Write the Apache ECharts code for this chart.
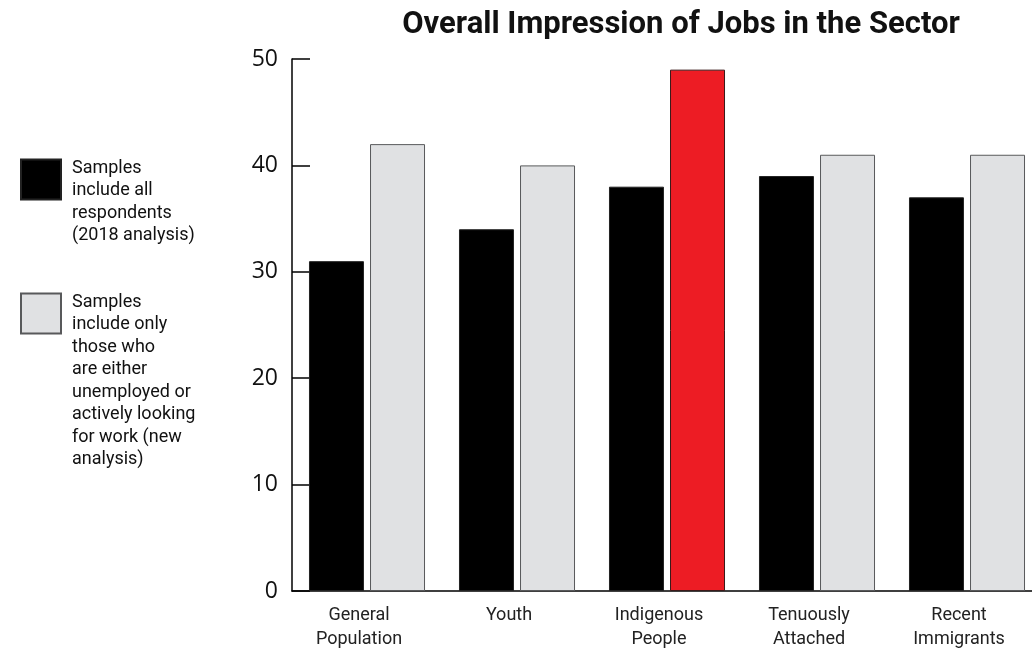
<!DOCTYPE html>
<html><head><meta charset="utf-8">
<script src="https://cdn.jsdelivr.net/npm/echarts@6/dist/echarts.min.js"></script>
<style>html,body{margin:0;padding:0;background:#fff}#c{width:1032px;height:649px}</style>
</head><body><div id="c"></div>
<script>
const titleText = 'Overall Impression of Jobs in the Sector';
const categories = ['General\nPopulation', 'Youth', 'Indigenous\nPeople', 'Tenuously\nAttached', 'Recent\nImmigrants'];
const seriesAllName = 'Samples\ninclude all\nrespondents\n(2018 analysis)';
const seriesNewName = 'Samples\ninclude only\nthose who\nare either\nunemployed or\nactively looking\nfor work (new\nanalysis)';
const allRespondents = [31, 34, 38, 39, 37];
const newAnalysis = [42, 40, 49, 41, 41];
const highlightIndex = 2;
const yTicks = [0, 10, 20, 30, 40, 50];

const chart = echarts.init(document.getElementById('c'));
const font = 'Roboto, "Noto Sans", sans-serif';
const legendText = {
  fontFamily: font, fontSize: 18, lineHeight: 22.5, color: '#111',
  rich: {p: {fontFamily: font, fontSize: 18, lineHeight: 22.5, color: '#111', padding: [0, 0, 0, 6]}}
};
const wrap = (n, blank) => n.split('\n').map(l => '{p|' + l + '}').join('\n').replace(/^/, '\n'.repeat(blank));
chart.setOption({
  animation: false,
  backgroundColor: '#fff',
  title: {
    text: titleText, left: 676, top: 5, textAlign: 'center',
    textStyle: {fontFamily: font, fontWeight: 'bold', fontSize: 31, color: '#111'}
  },
  legend: [
    {
      data: [seriesAllName], orient: 'vertical', left: 20, top: 112, padding: 0,
      itemWidth: 40, itemHeight: 40, icon: 'rect',
      formatter: n => wrap(n, 2),
      textStyle: legendText
    },
    {
      data: [seriesNewName], orient: 'vertical', left: 20, top: 156, padding: 0,
      itemWidth: 40, itemHeight: 40, icon: 'rect',
      formatter: n => wrap(n, 6),
      textStyle: legendText
    }
  ],
  grid: {left: 292, top: 59, width: 750, bottom: 58, containLabel: false, outerBoundsMode: 'none'},
  xAxis: {
    type: 'category', data: categories,
    axisLine: {lineStyle: {color: '#000', width: 1.5}},
    axisTick: {inside: true, length: 13, lineStyle: {color: '#000', width: 1}},
    axisLabel: {fontFamily: font, fontSize: 18, lineHeight: 24, color: '#222', margin: 12, padding: [0, 16, 0, 0]}
  },
  yAxis: {
    type: 'value', min: yTicks[0], max: yTicks[yTicks.length - 1], interval: 10,
    splitLine: {show: false},
    axisLine: {show: true, lineStyle: {color: '#000', width: 1.5}},
    axisTick: {show: true, inside: true, length: 18, lineStyle: {color: '#000', width: 1.5}},
    axisLabel: {fontFamily: '"Open Sans", "Noto Sans", sans-serif', fontSize: 23, color: '#111', margin: 14}
  },
  series: [
    {
      name: seriesAllName, type: 'bar', data: allRespondents, barWidth: 55, barGap: '11%',
      itemStyle: {color: '#000', borderColor: '#222', borderWidth: 1}
    },
    {
      name: seriesNewName, type: 'bar', data: newAnalysis.map((v, i) => i === highlightIndex ?
        {value: v, itemStyle: {color: '#ed1c24', borderColor: '#3a1a1a', borderWidth: 1}} : v),
      barWidth: 55,
      itemStyle: {color: '#e0e1e3', borderColor: '#58595b', borderWidth: 1}
    }
  ]
});
</script></body></html>
